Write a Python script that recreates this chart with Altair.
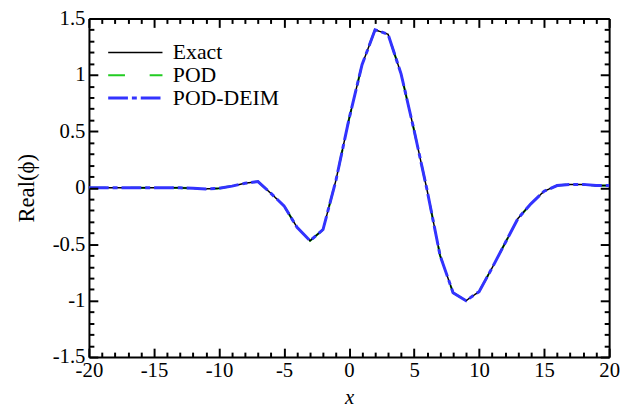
import altair as alt
import pandas as pd

# ---- data ----
x_vals = list(range(-20, 21))
exact = [0.0, 0.0, 0.0, 0.0, 0.0, 0.0, 0.0, 0.0, -0.005, -0.01,
         -0.005, 0.015, 0.04, 0.055, -0.05, -0.16, -0.35, -0.47, -0.37, 0.07,
         0.61, 1.09, 1.40, 1.36, 1.01, 0.51, -0.02, -0.60, -0.93, -1.00,
         -0.92, -0.71, -0.49, -0.27, -0.14, -0.03, 0.02, 0.03, 0.03, 0.02,
         0.02]
pod = [0.0, 0.0, 0.0, 0.0, 0.0, 0.0, 0.0, 0.0, -0.005, -0.01,
       -0.005, 0.015, 0.04, 0.055, -0.05, -0.16, -0.35, -0.47, -0.37, 0.07,
       0.61, 1.09, 1.40, 1.36, 1.01, 0.51, -0.02, -0.60, -0.93, -1.00,
       -0.92, -0.71, -0.49, -0.27, -0.14, -0.03, 0.02, 0.03, 0.03, 0.02,
       0.02]
deim = [0.0, 0.0, 0.0, 0.0, 0.0, 0.0, 0.0, 0.0, -0.005, -0.01,
        -0.005, 0.015, 0.04, 0.055, -0.05, -0.16, -0.35, -0.47, -0.37, 0.07,
        0.61, 1.09, 1.40, 1.36, 1.01, 0.51, -0.02, -0.60, -0.93, -1.00,
        -0.92, -0.71, -0.49, -0.27, -0.14, -0.03, 0.02, 0.03, 0.03, 0.02,
        0.02]

series_names = ["Exact", "POD", "POD-DEIM"]
series_colors = ["#000000", "#22cc22", "#3333ff"]
series_dash = [[1, 0], [17, 25], [20, 4, 5, 4]]
series_width = [1.5, 3, 3.5]

x_major = [-20, -15, -10, -5, 0, 5, 10, 15, 20]
y_major = [-1.5, -1.0, -0.5, 0.0, 0.5, 1.0, 1.5]
x_minor = [v for v in range(-20, 21) if v % 5 != 0]
y_minor = [round(-1.5 + 0.1 * i, 1) for i in range(31) if i % 5 != 0]

rows = []
for name, ys in zip(series_names, [exact, pod, deim]):
    for xv, yv in zip(x_vals, ys):
        rows.append({"x": xv, "y": yv, "series": name})
df = pd.DataFrame(rows)

W, H = 527, 343
FONT = "Liberation Serif"
FS = 21

xscale = alt.Scale(domain=[-20, 20], nice=False, zero=False)
yscale = alt.Scale(domain=[-1.5, 1.5], nice=False, zero=False)

legend = alt.Legend(
    title=None, orient="none", legendX=18, legendY=23,
    symbolType="stroke", symbolSize=3025, labelFont=FONT, labelFontSize=22,
    labelColor="black", labelOffset=9, clipHeight=23, rowPadding=0, padding=0,
)
color = alt.Color("series:N", scale=alt.Scale(domain=series_names, range=series_colors), legend=legend)
dash = alt.StrokeDash("series:N", scale=alt.Scale(domain=series_names, range=series_dash), legend=legend)
swidth = alt.StrokeWidth("series:N", scale=alt.Scale(domain=series_names, range=series_width), legend=legend)

base = alt.Chart(df)

layer_pod = base.transform_filter(alt.datum.series == "POD").mark_line().encode(
    x=alt.X("x:Q", scale=xscale, axis=None),
    y=alt.Y("y:Q", scale=yscale, axis=None),
    color=color, strokeDash=dash, strokeWidth=swidth,
)

layer_exact = base.transform_filter(alt.datum.series == "Exact").mark_line().encode(
    x=alt.X("x:Q", scale=xscale, axis=alt.Axis(
        orient="bottom", values=x_major, ticks=False, domain=True, domainColor="black",
        domainWidth=2, labelFont=FONT, labelFontSize=FS, labelColor="black",
        labelFlush=False, labelOverlap=False, labelPadding=3, labelExpr="'' + datum.value",
        title="x", titleFont=FONT, titleFontSize=FS, titleFontStyle="italic",
        titleFontWeight="normal", titleColor="black", titlePadding=6, grid=False)),
    y=alt.Y("y:Q", scale=yscale, axis=alt.Axis(
        orient="left", values=y_major, ticks=False, domain=True, domainColor="black",
        domainWidth=2, labelFont=FONT, labelFontSize=FS, labelColor="black",
        labelFlush=False, labelOverlap=False, labelPadding=4, labelExpr="'' + datum.value",
        title="Real(ϕ)", titleFont=FONT, titleFontSize=23, titleFontWeight="normal",
        titleColor="black", titlePadding=14, grid=False)),
    color=color, strokeDash=dash, strokeWidth=swidth,
)

layer_deim = base.transform_filter(alt.datum.series == "POD-DEIM").mark_line().encode(
    x=alt.X("x:Q", scale=xscale, axis=alt.Axis(
        orient="bottom", offset=-H, ticks=False, labels=False, domain=True,
        domainColor="black", domainWidth=2, title=None, grid=False)),
    y=alt.Y("y:Q", scale=yscale, axis=alt.Axis(
        orient="left", offset=-W, ticks=False, labels=False, domain=True,
        domainColor="black", domainWidth=2, title=None, grid=False)),
    color=color, strokeDash=dash, strokeWidth=swidth,
)


def x_tick_layer(orient, values, size):
    # inward ticks: the axis is moved across the plot to the opposite edge
    return base.mark_line(strokeOpacity=0).encode(
        x=alt.X("x:Q", scale=xscale, axis=alt.Axis(
            orient=orient, offset=-H, values=values, ticks=True, tickSize=size,
            tickWidth=2, tickColor="#000000", labels=False, domain=False,
            title=None, grid=False, zindex=2)),
        y=alt.Y("y:Q", scale=yscale, axis=None),
    )


def y_tick_layer(orient, values, size):
    return base.mark_line(strokeOpacity=0).encode(
        y=alt.Y("y:Q", scale=yscale, axis=alt.Axis(
            orient=orient, offset=-W, values=values, ticks=True, tickSize=size,
            tickWidth=2, tickColor="#000000", labels=False, domain=False,
            title=None, grid=False, zindex=2)),
        x=alt.X("x:Q", scale=xscale, axis=None),
    )


tick_layers = [
    x_tick_layer("top", x_major, 9), x_tick_layer("top", x_minor, 5),
    x_tick_layer("bottom", x_major, 9), x_tick_layer("bottom", x_minor, 5),
    y_tick_layer("right", y_major, 9), y_tick_layer("right", y_minor, 5),
    y_tick_layer("left", y_major, 9), y_tick_layer("left", y_minor, 5),
]

chart = alt.layer(layer_pod, layer_exact, layer_deim, *tick_layers).resolve_axis(
    x="independent", y="independent"
).properties(
    width=W, height=H,
    autosize=alt.AutoSizeParams(type="none"),
    padding={"left": 82, "top": 8, "right": 11, "bottom": 52},
    background="white",
).configure_view(strokeWidth=0)

chart.save("out.html", embed_options={"renderer": "svg", "actions": False})
